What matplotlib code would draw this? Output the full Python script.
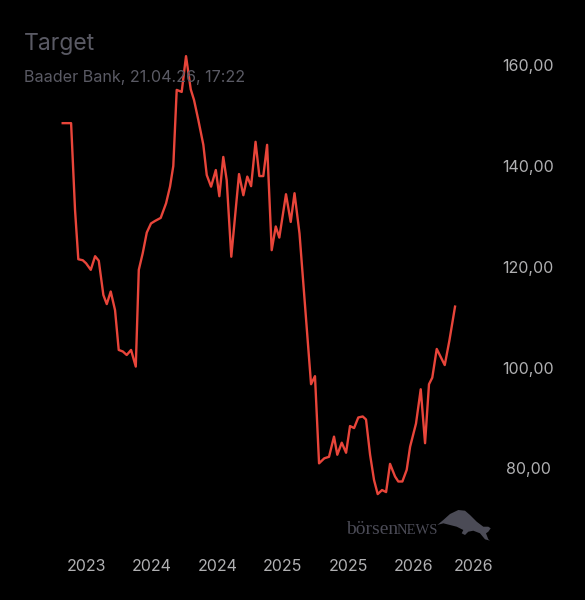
import matplotlib
matplotlib.use("Agg")
import matplotlib.pyplot as plt
from matplotlib.patches import Polygon

# decimal years of each quote
dates = [2023.322, 2023.386, 2023.416, 2023.441, 2023.475, 2023.500, 2023.536, 2023.569,
         2023.597, 2023.632, 2023.658, 2023.688, 2023.721, 2023.749, 2023.780, 2023.810,
         2023.843, 2023.879, 2023.902, 2023.932, 2023.963, 2023.995, 2024.026, 2024.069,
         2024.110, 2024.140, 2024.165, 2024.191, 2024.229, 2024.262, 2024.298, 2024.323,
         2024.356, 2024.394, 2024.420, 2024.453, 2024.489, 2024.516, 2024.546, 2024.572,
         2024.607, 2024.666, 2024.699, 2024.729, 2024.758, 2024.792, 2024.821, 2024.851,
         2024.880, 2024.915, 2024.946, 2024.973, 2025.024, 2025.060, 2025.089, 2025.127,
         2025.215, 2025.245, 2025.276, 2025.316, 2025.352, 2025.390, 2025.415, 2025.449,
         2025.482, 2025.512, 2025.543, 2025.575, 2025.609, 2025.634, 2025.665, 2025.695,
         2025.723, 2025.756, 2025.787, 2025.817, 2025.855, 2025.880, 2025.911, 2025.944,
         2025.970, 2026.015, 2026.051, 2026.084, 2026.114, 2026.139, 2026.173, 2026.234,
         2026.269, 2026.3125]

prices = [148.8, 148.8, 131.6, 121.8, 121.6, 121.0, 119.7, 122.4,
          121.5, 114.7, 112.9, 115.4, 111.7, 103.8, 103.5, 102.8,
          103.8, 100.5, 119.7, 123.0, 127.1, 128.9, 129.4, 130.0,
          132.9, 136.2, 140.3, 155.4, 155.0, 162.1, 155.5, 153.4,
          149.4, 144.5, 138.5, 136.2, 139.5, 134.3, 142.1, 137.5,
          122.3, 138.7, 134.5, 138.2, 136.3, 145.1, 138.3, 138.3,
          144.5, 123.6, 128.3, 126.1, 134.7, 129.2, 134.9, 126.9,
          97.0, 98.6, 81.3, 82.3, 82.6, 86.6, 83.0, 85.4,
          83.4, 88.7, 88.3, 90.4, 90.6, 90.0, 83.0, 78.0,
          75.2, 76.0, 75.6, 81.2, 78.7, 77.7, 77.7, 80.0,
          84.6, 89.2, 96.0, 85.3, 97.0, 98.3, 104.0, 100.8,
          105.6, 112.4]

x_ticks = [2023.5, 2024.0, 2024.5, 2025.0, 2025.5, 2026.0, 2026.45]
x_labels = ["2023", "2024", "2024", "2025", "2025", "2026", "2026"]
y_ticks = [80, 100, 120, 140, 160]
y_labels = ["80,00", "100,00", "120,00", "140,00", "160,00"]

W, H = 585, 600
plt.rcParams['font.family'] = ['Inter', 'DejaVu Sans']

fig = plt.figure(figsize=(W / 100, H / 100), dpi=100, facecolor='black')
# axes box in pixels: x 40..490, y 40..540 (from top)
ax = fig.add_axes([40 / W, 1 - 540 / H, 450 / W, 500 / H])
ax.set_facecolor('black')
ax.plot(dates, prices, color='#e8453a', linewidth=1.7, solid_joinstyle='round')

ax.set_xlim(2023.149, 2026.579)
ax.set_ylim(66.09, 165.30)
for s in ax.spines.values():
    s.set_visible(False)

ax.set_xticks(x_ticks)
ax.set_xticklabels(x_labels)
ax.set_yticks(y_ticks)
ax.set_yticklabels(y_labels)
ax.yaxis.tick_right()
ax.tick_params(axis='both', length=0, colors='#b0b0b2', labelsize=11.5)
ax.tick_params(axis='x', pad=13.5)
ax.tick_params(axis='y', pad=27.5)
for lbl in ax.get_yticklabels():
    lbl.set_horizontalalignment('center')
    lbl.set_verticalalignment('center')

# header
fig.text(24 / W, 1 - 50 / H, "Target", fontsize=16.5, color='#5a5a64', va='baseline')
fig.text(24 / W, 1 - 82 / H, "Baader Bank, 21.04.26, 17:22", fontsize=11.6, color='#5a5a64', va='baseline')

# watermark
wm = '#4b4b56'
fig.text(346 / W, 1 - 534 / H, "börsen", fontsize=14, family='Liberation Serif', color=wm, va='baseline')
fig.text(397 / W, 1 - 534 / H, "NEWS", fontsize=10.5, family='Liberation Serif', color=wm, va='baseline')
bull = [(437.3, 525), (443.3, 520), (450, 514), (458.3, 510), (465, 510.7), (470, 515),
        (476.7, 521.7), (483.3, 526.7), (488.3, 526.7), (490.7, 528.3), (488.3, 531.7),
        (486, 533.3), (488.3, 539.3), (490, 540.7), (485, 539.3), (480, 533.3),
        (473.3, 530.7), (468.3, 531.7), (465, 535), (461.7, 533.3), (463.3, 530),
        (456.7, 526.7), (450, 525), (443.3, 523.3)]
fig.patches.append(Polygon([(px / W, 1 - py / H) for px, py in bull], closed=True,
                           facecolor=wm, edgecolor='none', transform=fig.transFigure))

fig.savefig("out.png", dpi=100, facecolor='black')
